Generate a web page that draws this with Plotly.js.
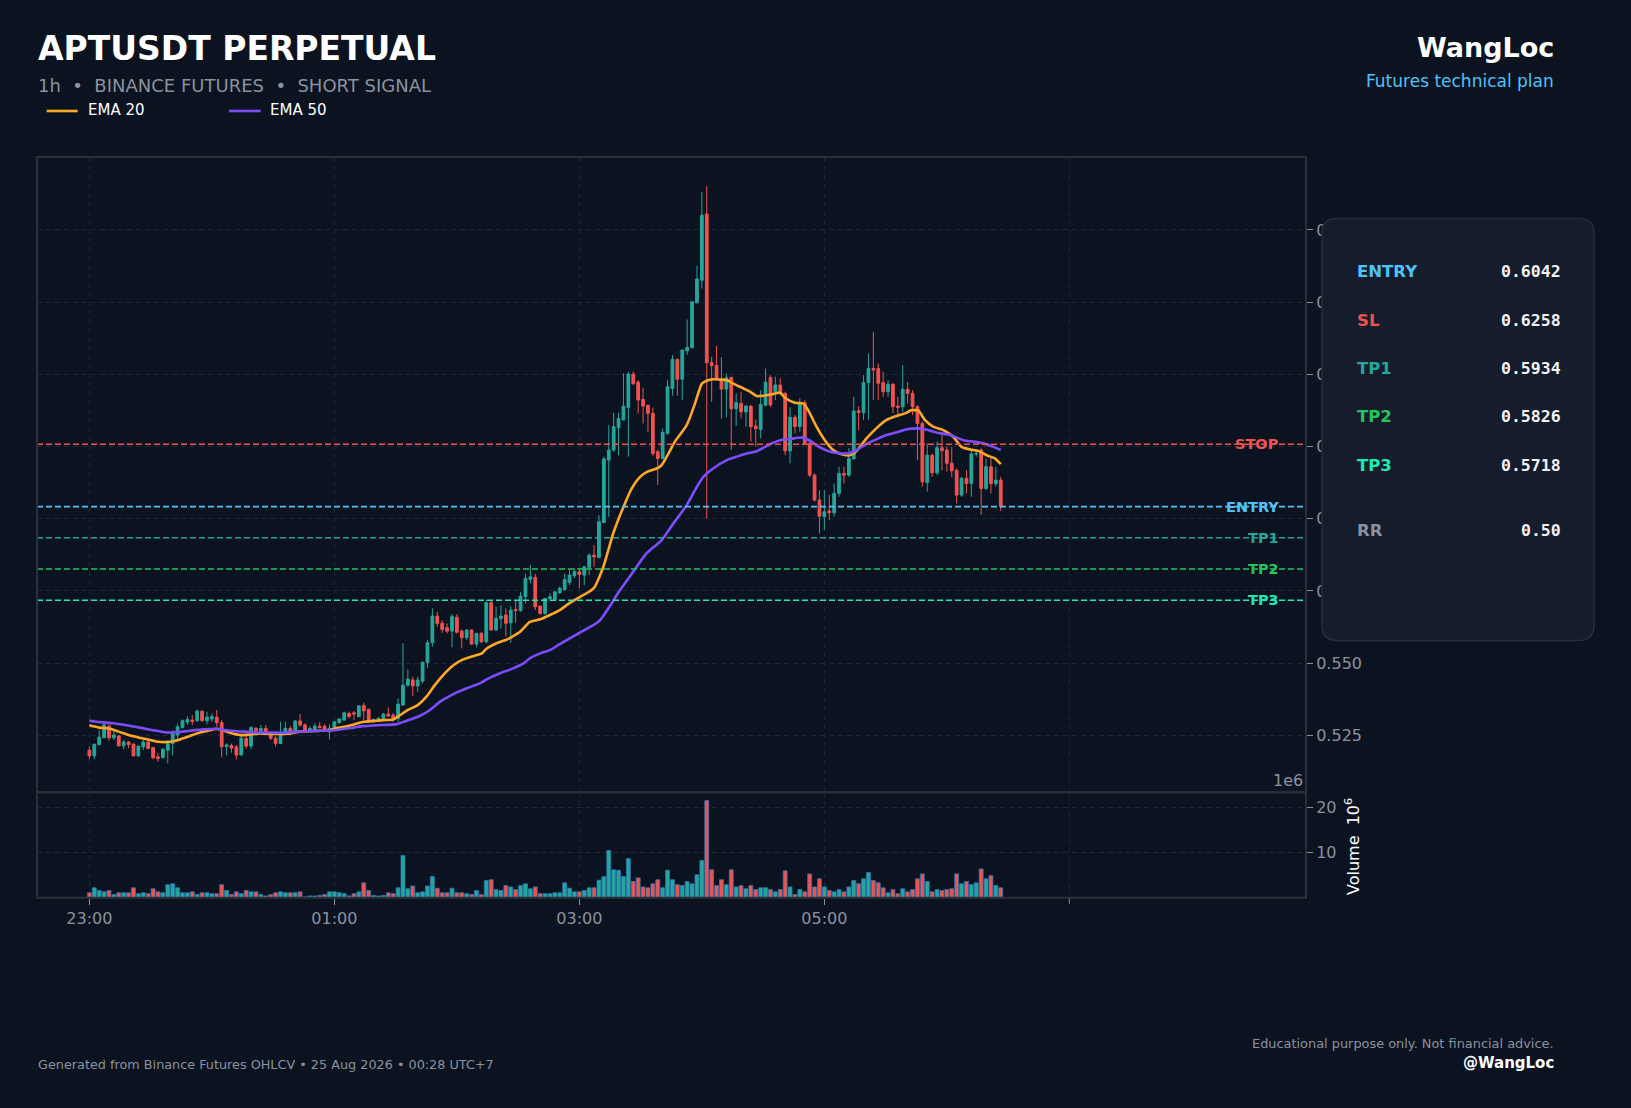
<!DOCTYPE html>
<html>
<head>
<meta charset="utf-8">
<script src="https://cdn.plot.ly/plotly-3.0.1.min.js"></script>
<style>
html,body{margin:0;padding:0;background:#0c1320;}
#chart{width:1631px;height:1108px;}
</style>
</head>
<body>
<div id="chart"></div>
<script>
// ---------------- DATA ----------------
const open = [.5199,.5179,.5218,.5242,.5282,.5242,.5248,.5214,.5227,.5220,.5179,.5210,.5227,.5208,.5176,.5173,.5199,.5222,.5251,.5277,
.5296,.5303,.5301,.5334,.5301,.5307,.5313,.5294,.5211,.5215,.5210,.5182,.5240,.5213,.5274,.5266,.5274,.5257,.5240,.5222,
.5255,.5274,.5263,.5300,.5286,.5268,.5266,.5282,.5282,.5262,.5278,.5294,.5303,.5326,.5328,.5315,.5353,.5340,.5297,.5301,
.5309,.5324,.5320,.5309,.5355,.5424,.5442,.5421,.5438,.5503,.5571,.5663,.5638,.5623,.5611,.5659,.5611,.5589,.5615,.5566,
.5603,.5574,.5709,.5615,.5654,.5667,.5640,.5686,.5682,.5730,.5790,.5797,.5698,.5672,.5724,.5721,.5744,.5755,.5780,.5803,
.5817,.5805,.5832,.5874,.5866,.5987,.6203,.6238,.6315,.6342,.6385,.6501,.6473,.6413,.6393,.6365,.6232,.6209,.6296,.6451,
.6552,.6483,.6582,.6592,.6748,.6826,.7055,.6541,.6531,.6482,.6449,.6489,.6381,.6399,.6370,.6390,.6321,.6309,.6393,.6489,
.6440,.6463,.6434,.6235,.6351,.6319,.6402,.6261,.6151,.6065,.6007,.6027,.6021,.6088,.6157,.6151,.6208,.6374,.6367,.6471,
.6520,.6520,.6471,.6440,.6466,.6390,.6388,.6448,.6434,.6388,.6330,.6125,.6220,.6159,.6246,.6238,.6192,.6168,.6082,.6140,
.6122,.6224,.6238,.6105,.6180,.6122,.6134];
const high = [.5211,.5222,.5268,.5291,.5288,.5268,.5251,.5234,.5230,.5222,.5215,.5240,.5234,.5211,.5190,.5205,.5234,.5268,.5291,.5305,
.5317,.5320,.5340,.5336,.5332,.5326,.5338,.5303,.5222,.5222,.5217,.5251,.5251,.5280,.5280,.5286,.5286,.5263,.5248,.5297,
.5297,.5282,.5303,.5324,.5292,.5282,.5292,.5296,.5290,.5288,.5301,.5309,.5332,.5332,.5334,.5355,.5364,.5342,.5309,.5313,
.5328,.5347,.5328,.5378,.5569,.5478,.5453,.5453,.5505,.5580,.5690,.5678,.5649,.5638,.5670,.5670,.5617,.5617,.5617,.5605,
.5609,.5719,.5716,.5695,.5701,.5690,.5698,.5716,.5747,.5811,.5840,.5809,.5698,.5726,.5742,.5749,.5765,.5810,.5822,.5828,
.5828,.5834,.5880,.5909,.6013,.6215,.6324,.6367,.6367,.6503,.6509,.6509,.6480,.6454,.6393,.6385,.6240,.6313,.6480,.6567,
.6555,.6584,.6690,.6751,.6876,.7132,.7152,.6561,.6599,.6559,.6503,.6492,.6434,.6440,.6393,.6393,.6344,.6445,.6520,.6497,
.6492,.6486,.6440,.6386,.6359,.6417,.6411,.6267,.6157,.6099,.6099,.6082,.6122,.6180,.6180,.6244,.6422,.6390,.6497,.6572,
.6647,.6538,.6509,.6480,.6469,.6422,.6532,.6474,.6445,.6394,.6336,.6261,.6226,.6267,.6296,.6249,.6249,.6174,.6145,.6168,
.6244,.6236,.6244,.6208,.6215,.6180,.6145];
const low = [.5167,.5167,.5215,.5240,.5232,.5234,.5211,.5202,.5205,.5179,.5178,.5199,.5202,.5167,.5159,.5170,.5153,.5181,.5234,.5274,
.5286,.5286,.5297,.5297,.5288,.5297,.5280,.5174,.5181,.5190,.5167,.5181,.5205,.5202,.5257,.5257,.5257,.5234,.5211,.5220,
.5251,.5251,.5257,.5280,.5263,.5263,.5263,.5274,.5266,.5236,.5274,.5290,.5301,.5309,.5303,.5313,.5303,.5294,.5294,.5297,
.5305,.5315,.5297,.5297,.5353,.5418,.5387,.5401,.5430,.5482,.5557,.5626,.5605,.5603,.5555,.5603,.5551,.5580,.5564,.5555,
.5569,.5569,.5612,.5612,.5620,.5592,.5571,.5640,.5678,.5707,.5776,.5684,.5668,.5668,.5719,.5718,.5740,.5750,.5770,.5795,
.5759,.5770,.5805,.5834,.5863,.5984,.6007,.6232,.6220,.6342,.6215,.6463,.6365,.6330,.6299,.6217,.6117,.6205,.6290,.6426,
.6426,.6411,.6567,.6590,.6745,.6797,.6001,.6405,.6480,.6347,.6352,.6238,.6321,.6347,.6319,.6267,.6249,.6278,.6390,.6388,
.6411,.6428,.6220,.6192,.6296,.6301,.6255,.6145,.6059,.5949,.5961,.5995,.6007,.6076,.6122,.6145,.6203,.6307,.6342,.6342,
.6411,.6411,.6422,.6422,.6365,.6359,.6370,.6399,.6359,.6203,.6111,.6094,.6145,.6151,.6168,.6163,.6145,.6053,.6076,.6088,
.6076,.6215,.6013,.6099,.6088,.6111,.6027];
const close = [.5179,.5219,.5244,.5286,.5242,.5251,.5214,.5227,.5218,.5179,.5213,.5227,.5205,.5173,.5170,.5202,.5222,.5257,.5280,.5301,
.5305,.5298,.5334,.5301,.5313,.5315,.5294,.5211,.5217,.5206,.5182,.5240,.5213,.5278,.5266,.5274,.5263,.5240,.5222,.5251,
.5274,.5263,.5300,.5286,.5268,.5274,.5282,.5277,.5270,.5275,.5297,.5307,.5328,.5315,.5324,.5352,.5335,.5297,.5305,.5309,
.5324,.5317,.5309,.5358,.5424,.5445,.5421,.5442,.5503,.5571,.5663,.5638,.5617,.5611,.5661,.5607,.5588,.5615,.5566,.5603,
.5574,.5709,.5615,.5655,.5663,.5638,.5684,.5682,.5732,.5794,.5799,.5695,.5672,.5724,.5730,.5747,.5759,.5790,.5805,.5817,
.5807,.5834,.5874,.5868,.5990,.6207,.6238,.6319,.6347,.6390,.6501,.6468,.6411,.6390,.6365,.6226,.6209,.6299,.6457,.6552,
.6483,.6584,.6593,.6751,.6830,.7051,.6540,.6530,.6483,.6449,.6488,.6381,.6402,.6370,.6390,.6319,.6312,.6396,.6473,.6394,
.6463,.6434,.6235,.6351,.6319,.6399,.6261,.6151,.6065,.6009,.6024,.6021,.6088,.6157,.6151,.6208,.6373,.6368,.6471,.6520,
.6515,.6469,.6440,.6466,.6388,.6386,.6448,.6434,.6388,.6330,.6128,.6220,.6159,.6246,.6236,.6192,.6166,.6082,.6140,.6122,
.6224,.6226,.6105,.6180,.6122,.6134,.6042];
// volume, millions
const volume = [1.1,2.2,1.6,1.3,1.6,0.7,1.1,1.1,1.1,2.2,0.9,1.1,0.9,2.0,1.3,1.1,2.9,3.1,2.2,1.1,
1.1,1.3,0.7,1.1,1.1,0.9,0.9,2.9,1.6,0.7,1.3,0.9,1.6,1.3,1.3,0.7,0.4,0.7,1.1,1.3,
1.1,1.1,1.1,1.3,0.2,0.4,0.4,0.5,0.7,1.3,1.3,1.1,0.9,0.4,0.9,1.3,3.3,1.6,0.5,0.4,
0.5,1.1,0.9,2.2,9.4,2.0,2.6,1.1,1.3,2.6,4.7,2.1,1.1,1.1,2.1,1.1,1.1,0.9,0.7,1.6,
0.7,3.8,4.0,1.8,1.6,2.7,2.4,1.8,2.7,3.1,2.0,2.4,0.9,0.9,0.9,1.1,1.1,3.3,2.1,1.3,
1.3,1.6,2.2,2.2,3.9,4.7,10.5,6.2,6.1,4.7,8.7,3.6,4.4,2.4,2.2,3.1,4.0,2.2,6.1,4.0,
2.9,2.7,3.6,3.1,5.1,8.3,21.6,6.2,2.7,4.0,2.9,6.2,2.4,2.7,2.0,2.7,1.8,2.2,2.2,1.8,
1.3,1.8,6.0,2.4,0.7,1.8,1.3,5.3,2.4,4.2,2.4,1.6,1.3,1.8,1.3,2.4,3.8,3.1,4.2,5.6,
3.8,3.3,2.2,1.1,1.8,0.9,2.0,1.3,1.8,4.2,5.3,3.6,1.3,1.8,1.6,1.8,2.0,5.3,3.1,3.6,
2.9,3.3,6.4,4.2,4.9,2.7,2.2];
// EMA lines (x = candle index)
const ema20X = [0,2,4,6,8,10,12,14,16.5,18.5,20.5,22.6,24.6,25.7,26.7,28.7,30.8,32.8,34.8,36.9,38.9,41,43,45.7,49,
50,52,54,56,58,60,62,63.4,65,67,68.8,70.5,72.2,74.3,76.3,78.4,80.1,81.1,83.1,85.2,86.5,87.9,89.9,92,94,96,
98,100,102.9,104.9,106.9,109,110.7,112.4,113.9,115.8,116.8,118.2,119.5,121.9,123.6,125,126,127.3,128.7,130.1,131.4,133.5,134.8,136.2,137.6,139,
141,142,144,145.7,146.7,148.4,150.1,151.8,153.5,155.2,156.6,158.6,160.6,162.7,164.8,166.5,167.8,169.2,170.5,172.2,174.3,176.3,178,179.7,181.4,183.1,184.8,186];
const ema20 = [.5285,.5277,.5274,.5263,.5251,.5243,.5236,.5228,.5228,.5236,.5248,.5260,.5268,.5272,.5271,.5259,.5251,.5253,.5257,.5255,.5255,.5257,.5263,.5265,.5268,
.5274,.5280,.5288,.5297,.5300,.5303,.5305,.5320,.5338,.5355,.5384,.5424,.5459,.5493,.5513,.5525,.5534,.5551,.5569,.5582,.5594,.5609,.5643,.5652,.5667,.5684,
.5708,.5728,.5759,.5834,.5949,.6041,.6105,.6145,.6163,.6174,.6186,.6226,.6267,.6324,.6399,.6468,.6478,.6483,.6482,.6480,.6468,.6451,.6440,.6425,.6426,.6430,
.6436,.6418,.6402,.6399,.6376,.6319,.6272,.6238,.6223,.6220,.6235,.6278,.6313,.6342,.6356,.6365,.6376,.6374,.6342,.6319,.6307,.6284,.6249,.6240,.6235,.6220,.6209,.6189];
const ema50X = [0,2.2,4.9,7.6,10.3,13,15.8,18.5,20.5,23.3,26,28.7,31.4,34.1,36.9,39.6,42.3,45.7,47.1,
50,53.9,55.9,58.6,62.7,64.8,67.5,69.5,71.6,74.3,77,79.7,81.1,83.8,86.5,88.6,89.9,92,94,96,
100,104,108.3,111,113.7,116.8,119.2,121.9,124,125.3,127.3,130.1,132.1,134.1,136.2,139,
141,143,145.4,147.1,149.1,151.2,153.5,154.8,156.6,158.6,160.6,162.7,165.1,166.8,168.9,170.5,173,175.7,178.4,180.4,182.5,184.5,186];
const ema50 = [.5301,.5296,.5292,.5285,.5277,.5268,.5260,.5262,.5266,.5271,.5273,.5266,.5263,.5260,.5260,.5259,.5263,.5265,.5266,
.5268,.5277,.5282,.5285,.5289,.5301,.5318,.5338,.5367,.5393,.5413,.5430,.5444,.5465,.5482,.5499,.5517,.5534,.5545,.5566,
.5605,.5645,.5753,.5817,.5880,.5926,.5984,.6047,.6111,.6145,.6174,.6203,.6215,.6226,.6234,.6259,
.6272,.6276,.6281,.6270,.6247,.6232,.6226,.6226,.6238,.6259,.6275,.6290,.6301,.6310,.6313,.6310,.6298,.6290,.6272,.6267,.6261,.6249,.6238];
// trade plan
const levelNames  = ['STOP','ENTRY','TP1','TP2','TP3'];
const levelValues = [0.6258,0.6042,0.5934,0.5826,0.5718];
const planLabels  = ['ENTRY','SL','TP1','TP2','TP3','RR'];
const planValues  = ['0.6042','0.6258','0.5934','0.5826','0.5718','0.50'];
// axes
const xTickIdx    = [0,50,100,150];
const xTickLabels = ['23:00','01:00','03:00','05:00'];
const xExtraTick  = 200;   // unlabeled tick past the data
const priceTicks  = [0.525,0.550,0.575,0.600,0.625,0.650,0.675,0.700];
const volTicks    = [10,20];

// ---------------- STYLE ----------------
const W=1631,H=1108;
const px=x=>x/W, py=y=>1-y/H;
const BG='#0c1320', GRID='#1f2633', GRAY='#8b929e', FRAME='#2a303b';
const UP='#26a69a', DOWN='#ef5350';
const ORANGE='#ffa726', PURPLE='#7c4dff';
const levelColors=['#ef5350','#4fc3f7','#26a69a','#22c55e','#1de9b6'];
const planColors =['#4fc3f7','#ef5350','#26a69a','#22c55e','#1de9b6','#8b929e'];
const FONT='DejaVu Sans', MONO='DejaVu Sans Mono';
const L=37, R=1306, TOP=157, MID=792.3, BOT=897.7;

const idx = close.map((_,i)=>i);
const volColors = close.map((c,i)=> c>=open[i]?UP:DOWN);

const traces = [
 {type:'bar', x:idx, y:volume, xaxis:'x', yaxis:'y2', width:0.8,
  marker:{color:volColors, line:{color:'#2a7ab8', width:0.8}}, hoverinfo:'skip'},
 {type:'candlestick', x:idx, open:open, high:high, low:low, close:close, xaxis:'x', yaxis:'y',
  increasing:{line:{color:UP,width:1}, fillcolor:UP},
  decreasing:{line:{color:DOWN,width:1}, fillcolor:DOWN}, whiskerwidth:0, hoverinfo:'skip'},
 {type:'scatter', mode:'lines', x:ema20X, y:ema20, xaxis:'x', yaxis:'y',
  line:{color:ORANGE,width:2.6,shape:'spline',smoothing:0.6}, hoverinfo:'skip'},
 {type:'scatter', mode:'lines', x:ema50X, y:ema50, xaxis:'x', yaxis:'y',
  line:{color:PURPLE,width:2.6,shape:'spline',smoothing:0.6}, hoverinfo:'skip'}
];

const shapes=[], annotations=[];
// extra unlabeled x tick (gridlines + tick mark)
shapes.push({type:'line', xref:'x', x0:xExtraTick, x1:xExtraTick, yref:'paper', y0:py(MID), y1:py(TOP),
  line:{color:GRID,width:1,dash:'5px,4px'}, layer:'below'});
shapes.push({type:'line', xref:'x', x0:xExtraTick, x1:xExtraTick, yref:'paper', y0:py(BOT), y1:py(MID),
  line:{color:GRID,width:1,dash:'5px,4px'}, layer:'below'});
shapes.push({type:'line', xref:'x', x0:xExtraTick, x1:xExtraTick, yref:'paper', y0:py(BOT+6), y1:py(BOT),
  line:{color:GRAY,width:1}});
// level lines + labels
levelValues.forEach((v,k)=>{
  shapes.push({type:'line', xref:'x domain', x0:0, x1:1, yref:'y', y0:v, y1:v,
    line:{color:levelColors[k], width:1.6, dash:'6px,3px'}, layer:'above'});
  annotations.push({xref:'paper', x:px(1281), xanchor:'right', yref:'y', y:v, yanchor:'middle',
    text:levelNames[k], showarrow:false, font:{family:FONT,size:14.5,color:levelColors[k],weight:'bold'}});
});
// panel frames
shapes.push({type:'rect', xref:'paper', yref:'paper', x0:px(L), x1:px(R), y0:py(MID), y1:py(TOP),
  line:{color:FRAME,width:2}, layer:'above'});
shapes.push({type:'rect', xref:'paper', yref:'paper', x0:px(L), x1:px(R), y0:py(BOT), y1:py(MID),
  line:{color:FRAME,width:2}, layer:'above'});
// plan box (rounded)
(function(){
  const x0=px(1322),x1=px(1594),y0=py(640.5),y1=py(218.5),rx=px(15),ry=15/H;
  const p=`M${x0+rx},${y1} L${x1-rx},${y1} Q${x1},${y1} ${x1},${y1-ry} L${x1},${y0+ry} Q${x1},${y0} ${x1-rx},${y0} `+
          `L${x0+rx},${y0} Q${x0},${y0} ${x0},${y0+ry} L${x0},${y1-ry} Q${x0},${y1} ${x0+rx},${y1} Z`;
  shapes.push({type:'path', xref:'paper', yref:'paper', path:p, fillcolor:'#151c2b',
    line:{color:'#262e3d',width:1.5}, layer:'above'});
})();
const rowY=[271,320,368.3,416.7,465.7,530.7];
planLabels.forEach((t,k)=>{
  annotations.push({xref:'paper',yref:'paper',x:px(1355),y:py(rowY[k]),xanchor:'left',yanchor:'middle',
    text:t,showarrow:false,font:{family:FONT,size:16.5,color:planColors[k],weight:'bold'}});
  annotations.push({xref:'paper',yref:'paper',x:px(1563),y:py(rowY[k]),xanchor:'right',yanchor:'middle',
    text:planValues[k],showarrow:false,font:{family:MONO,size:16.5,color:'#f2f2f2',weight:'bold'}});
});
// legend
shapes.push({type:'line',xref:'paper',yref:'paper',x0:px(46.7),x1:px(77.7),y0:py(111),y1:py(111),line:{color:ORANGE,width:2.6}});
shapes.push({type:'line',xref:'paper',yref:'paper',x0:px(229),x1:px(260.7),y0:py(111),y1:py(111),line:{color:PURPLE,width:2.6}});
annotations.push({xref:'paper',yref:'paper',x:px(86),y:py(110),xanchor:'left',yanchor:'middle',text:'EMA 20',showarrow:false,font:{family:FONT,size:15,color:'#ffffff'}});
annotations.push({xref:'paper',yref:'paper',x:px(268),y:py(110),xanchor:'left',yanchor:'middle',text:'EMA 50',showarrow:false,font:{family:FONT,size:15,color:'#ffffff'}});
// header
annotations.push({xref:'paper',yref:'paper',x:px(36),y:py(49),xanchor:'left',yanchor:'middle',text:'APTUSDT PERPETUAL',showarrow:false,font:{family:FONT,size:33,color:'#ffffff',weight:'bold'}});
annotations.push({xref:'paper',yref:'paper',x:px(36),y:py(86),xanchor:'left',yanchor:'middle',text:'1h  •  BINANCE FUTURES  •  SHORT SIGNAL',showarrow:false,font:{family:FONT,size:18,color:GRAY}});
annotations.push({xref:'paper',yref:'paper',x:px(1556),y:py(47),xanchor:'right',yanchor:'middle',text:'WangLoc',showarrow:false,font:{family:FONT,size:27,color:'#ffffff',weight:'bold'}});
annotations.push({xref:'paper',yref:'paper',x:px(1556),y:py(80.5),xanchor:'right',yanchor:'middle',text:'Futures technical plan',showarrow:false,font:{family:FONT,size:17,color:'#4fc3f7'}});
// footer
annotations.push({xref:'paper',yref:'paper',x:px(36),y:py(1064),xanchor:'left',yanchor:'middle',text:'Generated from Binance Futures OHLCV • 25 Aug 2026 • 00:28 UTC+7',showarrow:false,font:{family:FONT,size:12.8,color:GRAY}});
annotations.push({xref:'paper',yref:'paper',x:px(1556),y:py(1043),xanchor:'right',yanchor:'middle',text:'Educational purpose only. Not financial advice.',showarrow:false,font:{family:FONT,size:12.9,color:GRAY}});
annotations.push({xref:'paper',yref:'paper',x:px(1556),y:py(1063),xanchor:'right',yanchor:'middle',text:'@WangLoc',showarrow:false,font:{family:FONT,size:15,color:'#ffffff',weight:'bold'}});
// volume axis decorations
annotations.push({xref:'paper',yref:'paper',x:px(1305),y:py(780),xanchor:'right',yanchor:'middle',text:'1e6',showarrow:false,font:{family:FONT,size:16,color:GRAY}});
annotations.push({xref:'paper',yref:'paper',x:px(1352),y:py(847),xanchor:'center',yanchor:'middle',textangle:-90,text:'Volume  10<sup>6</sup>',showarrow:false,font:{family:FONT,size:16,color:'#ffffff'}});

const axisCommon={showline:false, zeroline:false, ticks:'outside', ticklen:6, tickwidth:1, tickcolor:GRAY,
  tickfont:{family:FONT,size:16,color:GRAY}, showgrid:true, gridcolor:GRID, griddash:'5px,4px', gridwidth:1, fixedrange:true};

const xLeft = -11.1 + (L-35)/4.9;
const pTop  = 0.525 + (735.3-TOP)/2888;
const layout={
  width:W, height:H, margin:{l:0,r:0,t:0,b:0}, paper_bgcolor:BG, plot_bgcolor:BG,
  showlegend:false, boxgap:0.2, bargap:0.2, hovermode:false,
  font:{family:FONT,color:GRAY},
  xaxis:Object.assign({}, axisCommon, {domain:[px(L),px(R)], range:[xLeft,248.3], anchor:'y2',
    tickmode:'array', tickvals:xTickIdx, ticktext:xTickLabels, rangeslider:{visible:false}}),
  yaxis:Object.assign({}, axisCommon, {domain:[py(MID),py(TOP)], range:[0.5053,pTop], side:'right', anchor:'x',
    tickmode:'array', tickvals:priceTicks, ticktext:priceTicks.map(v=>v.toFixed(3))}),
  yaxis2:Object.assign({}, axisCommon, {domain:[py(BOT),py(MID)], range:[0,23.45], side:'right', anchor:'x',
    tickmode:'array', tickvals:volTicks, ticktext:volTicks.map(String)}),
  shapes:shapes, annotations:annotations
};
Plotly.newPlot('chart', traces, layout, {displayModeBar:false, staticPlot:true});
</script>
</body>
</html>
